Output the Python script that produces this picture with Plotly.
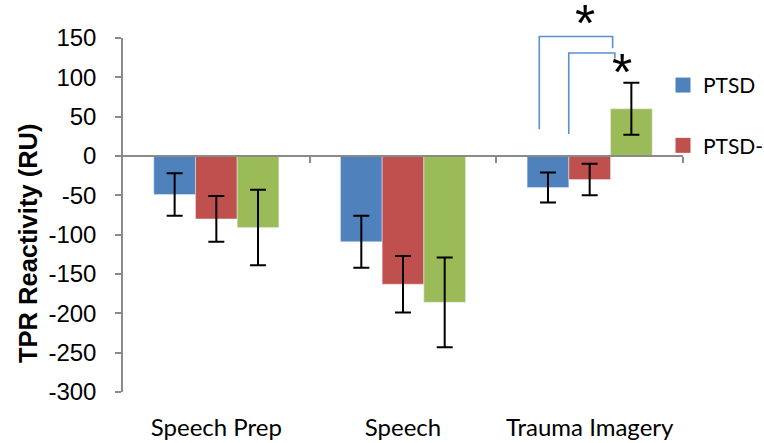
import plotly.graph_objects as go

# Task phases and group means / standard errors (TPR reactivity, RU)
phases = ["Speech Prep", "Speech", "Trauma Imagery"]
ptsd_mean = [-49, -109, -40]
ptsd_err = [27, 33, 19]
ptsd_neg_mean = [-80, -163, -30]
ptsd_neg_err = [29, 36, 20]
control_mean = [-91, -186, 60]
control_err = [48, 57, 33]

y_ticks = [150, 100, 50, 0, -50, -100, -150, -200, -250, -300]
y_min, y_max = -300, 150

blue, red, green = "#4F81BD", "#C0504D", "#9BBB59"
axis_gray = "#8A8A8A"
label_font = "Lato"

def err(vals):
    return dict(type="data", array=vals, color="black", thickness=2, width=8)

fig = go.Figure()
fig.add_bar(x=phases, y=ptsd_mean, name="PTSD", marker_color=blue,
            error_y=err(ptsd_err), showlegend=False)
fig.add_bar(x=phases, y=ptsd_neg_mean, name="PTSD-", marker_color=red,
            error_y=err(ptsd_neg_err), showlegend=False)
fig.add_bar(x=phases, y=control_mean, name="Control", marker_color=green,
            error_y=err(control_err), showlegend=False)

# Legend keys with larger square swatches
for name, color, grp in [("PTSD", blue, "a"), ("PTSD-", red, "b")]:
    fig.add_trace(go.Scatter(x=[None], y=[None], mode="markers", name=name,
                             legendgroup=grp, hoverinfo="skip",
                             marker=dict(symbol="square", size=15, color=color)))

# Overlay axis that draws the zero baseline with ticks at category boundaries
fig.add_trace(go.Scatter(x=[None], y=[None], xaxis="x2", showlegend=False,
                         hoverinfo="skip"))

def py(v):
    return (v - y_min) / (y_max - y_min)

# Significance brackets (Trauma Imagery comparisons)
bracket_color = "#5B8FD0"
brackets = [
    # (x left, y left end, x right, y right end, y top)
    (1.73, 34, 2.123, 137, 152),
    (1.888, 28, 2.135, 124, 131),
]
for xl, yl, xr, yr, yt in brackets:
    path = (f"M {xl} {py(yl)} L {xl} {py(yt)} L {xr} {py(yt)} L {xr} {py(yr)}")
    fig.add_shape(type="path", path=path, xref="x", yref="paper",
                  line=dict(color=bracket_color, width=1.6))

for ax_x, ax_y in [(1.973, 169), (2.171, 107)]:
    fig.add_annotation(x=ax_x, y=py(ax_y), xref="x", yref="paper", text="*",
                       showarrow=False, yanchor="middle",
                       font=dict(family="Liberation Sans", size=52, color="black"))

plot_w = 560
plot_top, plot_bottom = 38, 392
left, right = 123, 10
paper_w = 764 - left - right
plot_h = plot_bottom - plot_top

# Y-axis title, placed beside the tick labels
fig.add_annotation(text="<b>TPR Reactivity (RU)</b>", textangle=-90,
                   xref="paper", yref="paper",
                   x=(28 - left) / paper_w, y=(plot_bottom - 244) / plot_h,
                   xanchor="center", yanchor="middle", showarrow=False,
                   font=dict(family="Liberation Sans", size=25.5, color="black"))

fig.update_layout(
    width=764, height=443,
    margin=dict(l=left, r=right, t=plot_top, b=443 - plot_bottom,
                autoexpand=False),
    paper_bgcolor="white", plot_bgcolor="white",
    barmode="group", bargap=0.33, bargroupgap=0,
    showlegend=True,
    legend=dict(x=(663 - left) / paper_w, y=0.924, xanchor="left", yanchor="top",
                font=dict(family=label_font, size=21, color="black"),
                tracegroupgap=30, itemwidth=30, bgcolor="rgba(0,0,0,0)"),
    xaxis=dict(domain=[0, plot_w / paper_w], showline=False, ticks="",
               showgrid=False, zeroline=False, automargin=False,
               tickfont=dict(family=label_font, size=24, color="black"),
               ticklabelstandoff=19, range=[-0.5, 2.5]),
    xaxis2=dict(domain=[0, plot_w / paper_w], overlaying="x", anchor="free",
                position=py(0), side="bottom",
                range=[-0.5, 2.5], tickvals=[0.5, 1.5, 2.5],
                showticklabels=False, ticks="outside", ticklen=6,
                tickcolor=axis_gray, tickwidth=2, showline=True,
                linecolor=axis_gray, linewidth=2, showgrid=False,
                zeroline=False),
    yaxis=dict(range=[y_min, y_max], tickvals=y_ticks,
               ticktext=[str(v) for v in y_ticks], automargin=False,
               showline=True, linecolor=axis_gray, linewidth=1.5,
               ticks="outside", ticklen=6, tickcolor=axis_gray, tickwidth=1.5,
               showgrid=False, zeroline=False, ticklabelstandoff=14,
               tickfont=dict(family="Liberation Sans", size=24, color="black")),
)

fig.write_html("out.html")
